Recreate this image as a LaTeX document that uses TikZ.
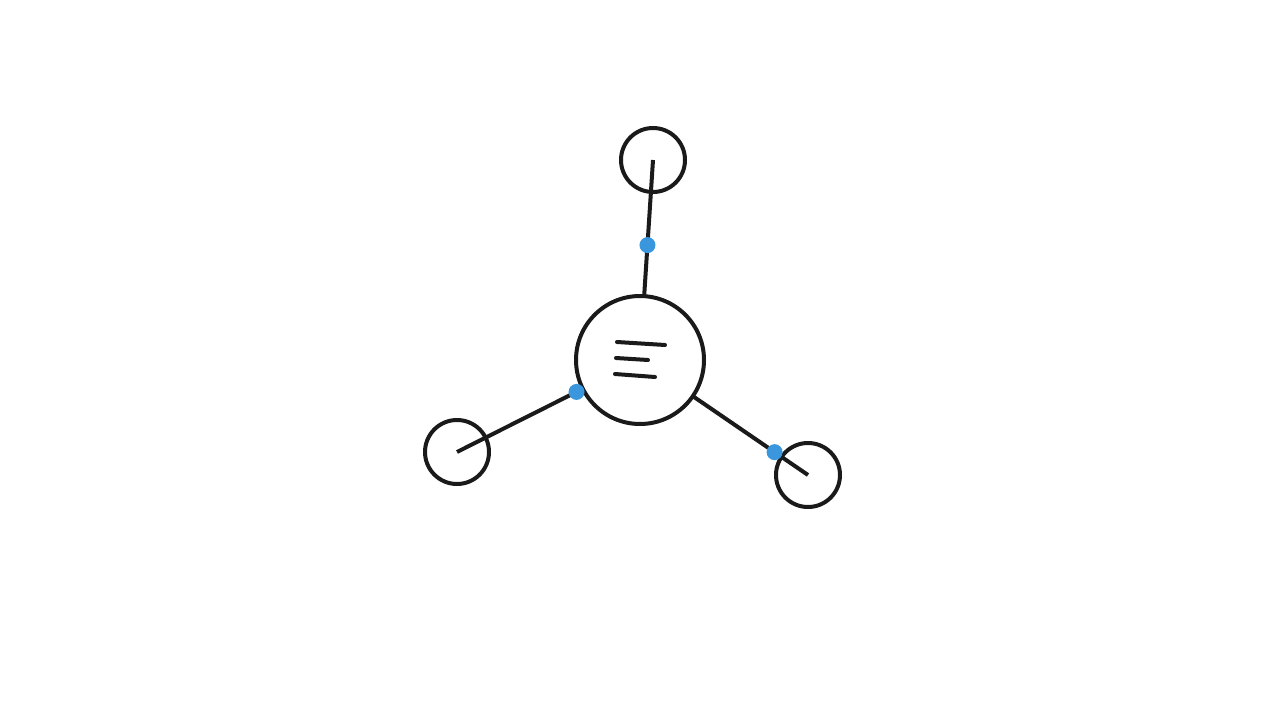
\documentclass[tikz,border=0pt]{standalone}
\usepackage{tikz}

\definecolor{ink}{HTML}{1A1A1A}
\definecolor{joint}{HTML}{3A96DD}

\begin{document}
\begin{tikzpicture}[
    x=1pt,y=-1pt,
    ring/.style={circle, draw=ink, line width=4pt, inner sep=0pt, outer sep=0pt},
    leaf/.style={ring, minimum size=64pt},
    hub/.style={ring, minimum size=128pt},
    arm/.style={draw=ink, line width=4pt},
    joint/.style={circle, fill=joint, inner sep=0pt, minimum size=16pt},
    bar/.style={ink, line width=4pt, line cap=round}
    ]
    \useasboundingbox (0, 0) rectangle (1280, 720);
    \node[hub] (centre) at (640, 360) {};
    \node[leaf] (top) at (653, 160) {};
    \node[leaf] (left) at (457, 452) {};
    \node[leaf] (right) at (808, 475) {};
    \draw[arm] (top.center) -- node[joint, pos=0.625] (jtop) {} (centre);
    \draw[arm] (left.center) -- node[joint, pos=0.95] (jleft) {} (centre);
    \draw[arm] (right.center) -- node[joint, pos=0.29] (jright) {} (centre);
    % lines in the hub
    \draw[bar] (617, 342) -- (665, 345);
    \draw[bar] (616, 358) -- (648, 360);
    \draw[bar] (615, 374) -- (655, 377);
\end{tikzpicture}
\end{document}
